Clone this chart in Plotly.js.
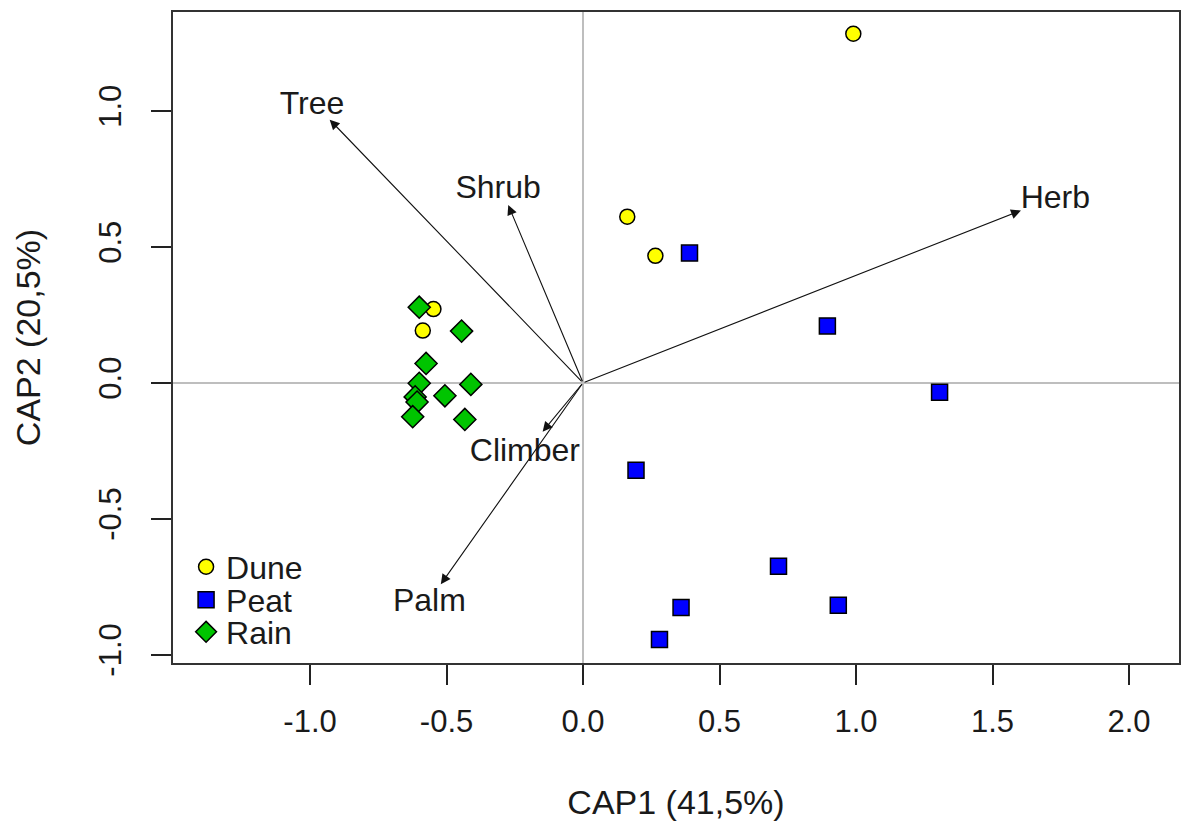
<!DOCTYPE html>
<html>
<head>
<meta charset="utf-8">
<script src="https://cdn.plot.ly/plotly-3.0.1.min.js"></script>
<style>html,body{margin:0;padding:0;background:#fff;}#chart{width:1181px;height:833px;}</style>
</head>
<body>
<div id="chart"></div>
<script>
// ---- data ----
const duneX = [0.990, 0.162, 0.265, -0.548, -0.587];
const duneY = [1.284, 0.611, 0.467, 0.271, 0.192];

const peatX = [0.390, 0.895, 1.306, 0.194, 0.716, 0.935, 0.359, 0.280];
const peatY = [0.477, 0.209, -0.035, -0.322, -0.675, -0.819, -0.827, -0.945];

const rainX = [-0.600, -0.445, -0.575, -0.600, -0.411, -0.506, -0.615, -0.608, -0.624, -0.433];
const rainY = [0.278, 0.190, 0.071, -0.002, -0.006, -0.048, -0.052, -0.071, -0.125, -0.135];

const vecNames = ['Tree', 'Shrub', 'Herb', 'Climber', 'Palm'];
const vecX = [-0.928, -0.274, 1.604, -0.148, -0.521];
const vecY = [0.968, 0.654, 0.634, -0.180, -0.741];
const vecLabelX = [-0.993, -0.311, 1.730, -0.213, -0.563];
const vecLabelY = [1.019, 0.710, 0.673, -0.260, -0.812];

const xTickVals = [-1.0, -0.5, 0.0, 0.5, 1.0, 1.5, 2.0];
const xTickText = ['-1.0', '-0.5', '0.0', '0.5', '1.0', '1.5', '2.0'];
const yTickVals = [-1.0, -0.5, 0.0, 0.5, 1.0];
const yTickText = ['-1.0', '-0.5', '0.0', '0.5', '1.0'];

const xTitle = 'CAP1 (41,5%)';
const yTitle = 'CAP2 (20,5%)';

// ---- styling ----
const FONT = 'Liberation Sans, Arial, sans-serif';
const TXT = '#1a1a1a';
const FS = 31;
const TFS = 34;

const traces = [
  {x: duneX, y: duneY, name: 'Dune', type: 'scatter', mode: 'markers', legend: 'legend',
   marker: {symbol: 'circle', size: 15, color: '#ffff00', line: {color: '#000', width: 1.5}}},
  {x: peatX, y: peatY, name: 'Peat', type: 'scatter', mode: 'markers', legend: 'legend2',
   marker: {symbol: 'square', size: 16, color: '#0000ff', line: {color: '#000', width: 1.5}}},
  {x: rainX, y: rainY, name: 'Rain', type: 'scatter', mode: 'markers', legend: 'legend3',
   marker: {symbol: 'diamond', size: 17, color: '#00c400', line: {color: '#000', width: 1.5}}},
  {x: vecLabelX, y: vecLabelY, text: vecNames, type: 'scatter', mode: 'text', showlegend: false,
   textposition: 'middle center', textfont: {family: FONT, size: 32, color: TXT}, hoverinfo: 'skip'}
];

const annotations = vecNames.map((n, i) => ({
  x: vecX[i], y: vecY[i], xref: 'x', yref: 'y',
  ax: 0, ay: 0, axref: 'x', ayref: 'y',
  text: '', showarrow: true, arrowhead: 2, arrowsize: 1.8, arrowwidth: 1.1,
  arrowcolor: '#111', standoff: 0, startstandoff: 0
}));

const legendBase = {
  xref: 'paper', yref: 'paper', xanchor: 'left', yanchor: 'middle',
  bgcolor: 'rgba(0,0,0,0)', borderwidth: 0,
  font: {family: FONT, size: 32, color: TXT}
};

const layout = {
  width: 1181, height: 833,
  margin: {l: 173, r: 2, t: 12, b: 170},
  paper_bgcolor: '#fff', plot_bgcolor: '#fff',
  font: {family: FONT, size: FS, color: TXT},
  showlegend: true,
  legend: Object.assign({}, legendBase, {x: 0.013, y: 0.1475}),
  legend2: Object.assign({}, legendBase, {x: 0.013, y: 0.0968}),
  legend3: Object.assign({}, legendBase, {x: 0.013, y: 0.0476}),
  xaxis: {
    range: [-1.502, 2.183], tickvals: xTickVals, ticktext: xTickText,
    showgrid: false, zeroline: true, zerolinecolor: '#bebebe', zerolinewidth: 2,
    showline: true, mirror: true, linecolor: '#333', linewidth: 2,
    ticks: 'outside', ticklen: 20, tickwidth: 2, tickcolor: '#222',
    ticklabelstandoff: 10,
    tickfont: {family: FONT, size: FS, color: TXT},
    title: {text: xTitle, font: {family: FONT, size: TFS, color: TXT}, standoff: 52},
    automargin: false
  },
  yaxis: {
    range: [-1.031, 1.364], tickvals: yTickVals, ticktext: yTickText, tickangle: -90,
    showgrid: false, zeroline: true, zerolinecolor: '#bebebe', zerolinewidth: 2,
    showline: true, mirror: true, linecolor: '#333', linewidth: 2,
    ticks: 'outside', ticklen: 20, tickwidth: 2, tickcolor: '#222',
    ticklabelstandoff: 18,
    tickfont: {family: FONT, size: FS, color: TXT},
    title: {text: yTitle, font: {family: FONT, size: TFS, color: TXT}, standoff: 42},
    automargin: false
  },
  annotations: annotations
};

Plotly.newPlot('chart', traces, layout, {displayModeBar: false, staticPlot: true});
</script>
</body>
</html>
